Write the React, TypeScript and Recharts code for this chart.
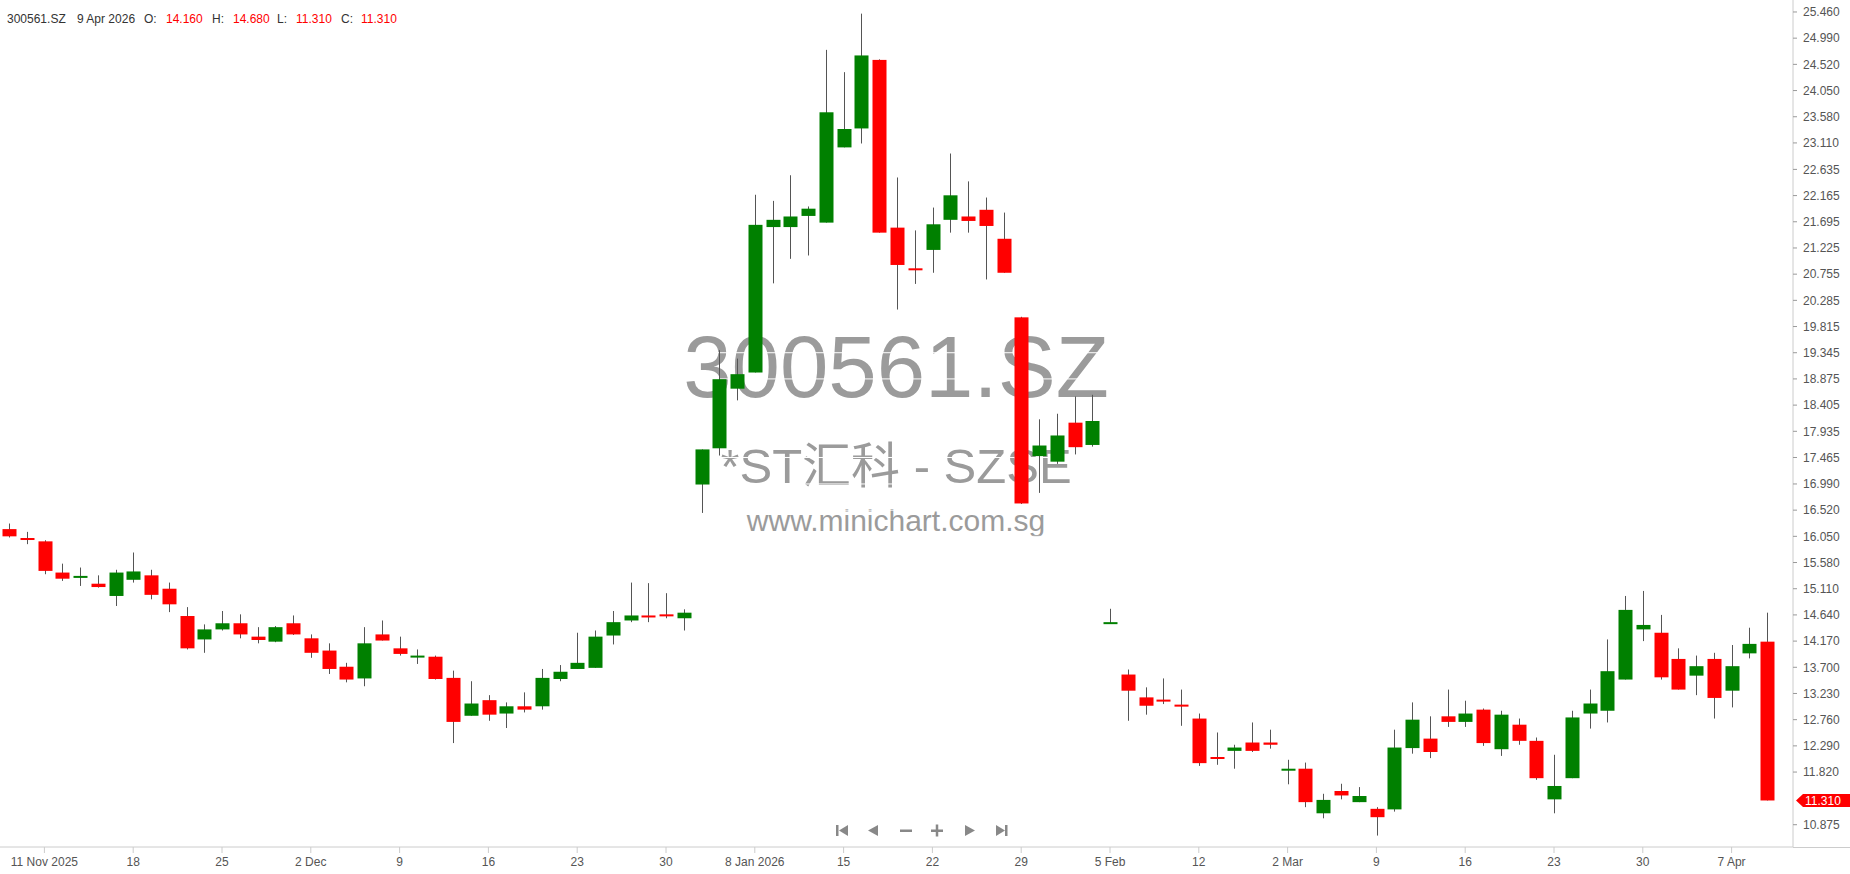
import { ComposedChart, Bar, XAxis, YAxis, CartesianGrid, ReferenceLine } from 'recharts'

// trading days, 7 Nov 2025 .. 9 Apr 2026
const dates = [
  '2025-11-07', '2025-11-10', '2025-11-11', '2025-11-12', '2025-11-13', '2025-11-14', '2025-11-17', '2025-11-18', '2025-11-19', '2025-11-20',
  '2025-11-21', '2025-11-24', '2025-11-25', '2025-11-26', '2025-11-27', '2025-11-28', '2025-12-01', '2025-12-02', '2025-12-03', '2025-12-04',
  '2025-12-05', '2025-12-08', '2025-12-09', '2025-12-10', '2025-12-11', '2025-12-12', '2025-12-15', '2025-12-16', '2025-12-17', '2025-12-18',
  '2025-12-19', '2025-12-22', '2025-12-23', '2025-12-24', '2025-12-25', '2025-12-26', '2025-12-29', '2025-12-30', '2025-12-31', '2026-01-05',
  '2026-01-06', '2026-01-07', '2026-01-08', '2026-01-09', '2026-01-12', '2026-01-13', '2026-01-14', '2026-01-15', '2026-01-16', '2026-01-19',
  '2026-01-20', '2026-01-21', '2026-01-22', '2026-01-23', '2026-01-26', '2026-01-27', '2026-01-28', '2026-01-29', '2026-01-30', '2026-02-02',
  '2026-02-03', '2026-02-04', '2026-02-05', '2026-02-06', '2026-02-09', '2026-02-10', '2026-02-11', '2026-02-12', '2026-02-13', '2026-02-25',
  '2026-02-26', '2026-02-27', '2026-03-02', '2026-03-03', '2026-03-04', '2026-03-05', '2026-03-06', '2026-03-09', '2026-03-10', '2026-03-11',
  '2026-03-12', '2026-03-13', '2026-03-16', '2026-03-17', '2026-03-18', '2026-03-19', '2026-03-20', '2026-03-23', '2026-03-24', '2026-03-25',
  '2026-03-26', '2026-03-27', '2026-03-30', '2026-03-31', '2026-04-01', '2026-04-02', '2026-04-03', '2026-04-07', '2026-04-08', '2026-04-09',
]

const open = [
  16.18, 16.02, 15.96, 15.40, 15.33, 15.20, 14.98, 15.27, 15.35, 15.11,
  14.62, 14.20, 14.38, 14.49, 14.25, 14.16, 14.49, 14.22, 14.00, 13.71,
  13.50, 14.29, 14.04, 13.88, 13.89, 13.51, 12.83, 13.11, 12.87, 13.00,
  13.00, 13.49, 13.67, 13.69, 14.27, 14.54, 14.63, 14.65, 14.58, 16.98,
  17.63, 18.70, 18.99, 21.60, 21.60, 21.80, 21.68, 23.03, 23.37, 24.60,
  21.59, 20.86, 21.19, 21.73, 21.79, 21.91, 21.39, 19.98, 17.49, 17.39,
  18.09, 17.69, 14.49, 13.57, 13.16, 13.12, 13.03, 12.78, 12.09, 12.20,
  12.35, 12.35, 11.85, 11.88, 11.08, 11.48, 11.28, 11.16, 11.15, 12.25,
  12.42, 12.82, 12.72, 12.94, 12.23, 12.67, 12.38, 11.33, 11.71, 12.87,
  12.92, 13.48, 14.38, 14.32, 13.85, 13.55, 13.85, 13.28, 13.95, 14.16,
]
const high = [
  16.28, 16.13, 15.98, 15.56, 15.49, 15.35, 15.45, 15.76, 15.45, 15.22,
  14.78, 14.47, 14.71, 14.65, 14.42, 14.44, 14.63, 14.29, 14.13, 13.78,
  14.42, 14.54, 14.25, 14.02, 13.91, 13.64, 13.45, 13.20, 13.07, 13.25,
  13.67, 13.74, 14.32, 14.36, 14.71, 15.22, 15.21, 15.03, 14.74, 17.61,
  19.39, 19.24, 22.18, 22.07, 22.53, 21.97, 24.78, 24.38, 25.43, 24.61,
  22.49, 21.54, 21.95, 22.92, 22.42, 22.13, 21.86, 19.99, 18.15, 18.25,
  18.56, 18.59, 14.75, 13.66, 13.34, 13.50, 13.30, 12.87, 12.53, 12.31,
  12.71, 12.58, 12.04, 11.99, 11.43, 11.61, 11.55, 11.19, 12.58, 13.07,
  12.82, 13.30, 13.10, 12.96, 12.92, 12.78, 12.44, 12.13, 12.92, 13.30,
  14.20, 14.98, 15.07, 14.64, 14.04, 13.91, 13.96, 14.10, 14.41, 14.68,
]
const low = [
  16.03, 15.91, 15.37, 15.25, 15.16, 15.13, 14.80, 15.22, 14.92, 14.69,
  14.02, 13.96, 14.36, 14.22, 14.13, 14.15, 14.28, 13.87, 13.58, 13.43,
  13.36, 14.18, 13.91, 13.76, 13.48, 12.34, 12.83, 12.74, 12.61, 12.89,
  12.94, 13.45, 13.67, 13.69, 14.11, 14.51, 14.51, 14.58, 14.36, 16.47,
  17.50, 18.49, 18.99, 20.59, 21.03, 21.09, 21.68, 23.03, 23.10, 21.50,
  20.12, 20.58, 20.78, 21.50, 21.50, 20.66, 20.78, 16.63, 16.83, 17.35,
  17.52, 17.66, 14.49, 12.74, 12.85, 13.04, 12.65, 11.93, 11.95, 11.88,
  12.18, 12.24, 11.60, 11.19, 10.99, 11.33, 11.28, 10.68, 11.11, 12.15,
  12.07, 12.63, 12.63, 12.29, 12.11, 12.31, 11.68, 11.08, 11.71, 12.60,
  12.71, 13.48, 14.17, 13.48, 13.30, 13.20, 12.78, 12.98, 13.86, 11.31,
]
const close = [
  16.05, 16.01, 15.43, 15.29, 15.34, 15.14, 15.40, 15.42, 15.00, 14.83,
  14.04, 14.38, 14.49, 14.29, 14.19, 14.42, 14.29, 13.96, 13.67, 13.48,
  14.13, 14.18, 13.94, 13.91, 13.49, 12.72, 13.05, 12.85, 13.00, 12.94,
  13.51, 13.62, 13.78, 14.25, 14.51, 14.63, 14.61, 14.63, 14.68, 17.61,
  18.87, 18.96, 21.64, 21.73, 21.79, 21.93, 23.66, 23.36, 24.68, 21.50,
  20.92, 20.84, 21.65, 22.17, 21.71, 21.62, 20.78, 16.64, 17.68, 17.86,
  17.65, 18.12, 14.51, 13.28, 13.01, 13.10, 13.01, 11.98, 12.07, 12.26,
  12.20, 12.31, 11.88, 11.28, 11.32, 11.40, 11.39, 11.01, 12.26, 12.76,
  12.18, 12.72, 12.87, 12.34, 12.85, 12.38, 11.71, 11.57, 12.80, 13.05,
  13.63, 14.73, 14.46, 13.52, 13.30, 13.72, 13.15, 13.72, 14.12, 11.31,
]

const tickDates = [
  '2025-11-11', '2025-11-18', '2025-11-25', '2025-12-02', '2025-12-09', '2025-12-16', '2025-12-23', '2025-12-30',
  '2026-01-08', '2026-01-15', '2026-01-22', '2026-01-29', '2026-02-05', '2026-02-12', '2026-03-02', '2026-03-09',
  '2026-03-16', '2026-03-23', '2026-03-30', '2026-04-07',
]
const tickLabels = [
  '11 Nov 2025', '18', '25', '2 Dec', '9', '16', '23', '30',
  '8 Jan 2026', '15', '22', '29', '5 Feb', '12', '2 Mar', '9',
  '16', '23', '30', '7 Apr',
]

const priceTicks = [
  25.46, 24.99, 24.52, 24.05, 23.58, 23.11, 22.635, 22.165, 21.695, 21.225,
  20.755, 20.285, 19.815, 19.345, 18.875, 18.405, 17.935, 17.465, 16.99, 16.52,
  16.05, 15.58, 15.11, 14.64, 14.17, 13.7, 13.23, 12.76, 12.29, 11.82, 10.875,
]

const symbol = '300561.SZ'
const lastDate = '9 Apr 2026'

const data = dates.map((d, i) => ({
  date: d,
  open: open[i],
  high: high[i],
  low: low[i],
  close: close[i],
  range: [low[i], high[i]],
}))

const last = data[data.length - 1]

const UP = '#008000'
const DOWN = '#ff0000'
const FONT = '"Liberation Sans", Arial, sans-serif'

function Candle(props: any) {
  const { x, y, width, height, payload } = props
  if (x == null || y == null) return null
  const top = Math.min(y, y + height)
  const h = Math.abs(height)
  const span = payload.high - payload.low || 1
  const py = (v: number) => top + ((payload.high - v) / span) * h
  const yo = py(payload.open)
  const yc = py(payload.close)
  const up = payload.close >= payload.open
  const bodyTop = Math.min(yo, yc)
  const bodyH = Math.max(2, Math.abs(yc - yo))
  const cx = Math.round(x + width / 2) + 0.5
  return (
    <g>
      <line x1={cx} x2={cx} y1={top} y2={top + h} stroke="#555" strokeWidth={1} />
      <rect x={cx - 7} y={bodyTop} width={14} height={bodyH} fill={up ? UP : DOWN} />
    </g>
  )
}

function PriceTag(props: any) {
  const vb = props.viewBox
  if (!vb) return null
  const x = vb.x + vb.width
  const y = vb.y
  return (
    <g>
      <polygon
        points={`${x + 3},${y} ${x + 10},${y - 6.5} ${x + 57},${y - 6.5} ${x + 57},${y + 6.5} ${x + 10},${y + 6.5}`}
        fill={DOWN}
      />
      <text x={x + 12} y={y + 4.5} fill="#fff" fontSize={12} fontFamily={FONT}>
        {last.close.toFixed(3)}
      </text>
    </g>
  )
}

export default function App() {
  const fmtX = (d: string) => {
    const k = tickDates.indexOf(d)
    return k >= 0 ? tickLabels[k] : ''
  }

  return (
    <div style={{ position: 'absolute', left: 0, top: 0, width: 1850, height: 874, background: '#fff', fontFamily: FONT }}>
      {/* watermark, behind the chart */}
      <svg width={1850} height={874} style={{ position: 'absolute', left: 0, top: 0 }}>
        <g fill="#9b9b9b" textAnchor="middle" fontFamily={FONT}>
          <text x={896} y={397} fontSize={87}>{symbol}</text>
          <text x={896} y={483} fontSize={49} fontFamily={`${FONT}, "Noto Sans CJK SC"`}>*ST汇科 - SZSE</text>
          <text x={896} y={531} fontSize={30}>www.minichart.com.sg</text>
        </g>
      </svg>

      <div style={{ position: 'absolute', left: 0, top: 0 }}>
        <ComposedChart width={1850} height={874} data={data} margin={{ top: 0, right: 0, bottom: 0, left: 0 }}>
          <CartesianGrid vertical={false} stroke="#fff" strokeWidth={1} />
          <XAxis
            dataKey="date"
            ticks={tickDates}
            interval={0}
            tickFormatter={fmtX}
            padding={{ left: 0, right: 17 }}
            height={27}
            tickSize={6}
            tickMargin={4}
            axisLine={{ stroke: '#ccc' }}
            tickLine={{ stroke: '#ccc' }}
            tick={{ fontSize: 12, fill: '#555', fontFamily: FONT }}
          />
          <YAxis
            orientation="right"
            width={57}
            domain={[10.475, 25.675]}
            allowDataOverflow
            ticks={priceTicks}
            interval={0}
            tickFormatter={(v: number) => v.toFixed(3)}
            tickSize={4}
            tickMargin={6}
            axisLine={{ stroke: '#ccc' }}
            tickLine={{ stroke: '#999' }}
            tick={{ fontSize: 12, fill: '#555', fontFamily: FONT }}
          />
          <Bar dataKey="range" barSize={14} shape={<Candle />} isAnimationActive={false} />
          <ReferenceLine y={last.close} stroke="none" label={<PriceTag />} />
        </ComposedChart>
      </div>

      {/* header and navigation controls */}
      <svg width={1850} height={874} style={{ position: 'absolute', left: 0, top: 0, pointerEvents: 'none' }}>
        <g fontSize={12} fontFamily={FONT}>
          <text x={7} y={23} fill="#333">{symbol}</text>
          <text x={77} y={23} fill="#333">{lastDate}</text>
          <text x={144} y={23} fill="#333">O:</text>
          <text x={166} y={23} fill={DOWN}>{last.open.toFixed(3)}</text>
          <text x={212} y={23} fill="#333">H:</text>
          <text x={233} y={23} fill={DOWN}>{last.high.toFixed(3)}</text>
          <text x={277} y={23} fill="#333">L:</text>
          <text x={296} y={23} fill={DOWN}>{last.low.toFixed(3)}</text>
          <text x={341} y={23} fill="#333">C:</text>
          <text x={361} y={23} fill={DOWN}>{last.close.toFixed(3)}</text>
        </g>
        <line x1={1793} x2={1850} y1={847.5} y2={847.5} stroke="#ccc" />
        <g fill="#888">
          <rect x={836} y={825} width={2.5} height={11} />
          <polygon points="839,830.5 848,825 848,836" />
          <polygon points="868,830.5 878,825 878,836" />
          <rect x={900} y={829.5} width={12} height={2.5} />
          <rect x={931} y={829.5} width={12} height={2.5} />
          <rect x={935.75} y={824.5} width={2.5} height={12} />
          <polygon points="975,830.5 965,825 965,836" />
          <polygon points="1005,830.5 996,825 996,836" />
          <rect x={1005} y={825} width={2.5} height={11} />
        </g>
      </svg>
    </div>
  )
}
